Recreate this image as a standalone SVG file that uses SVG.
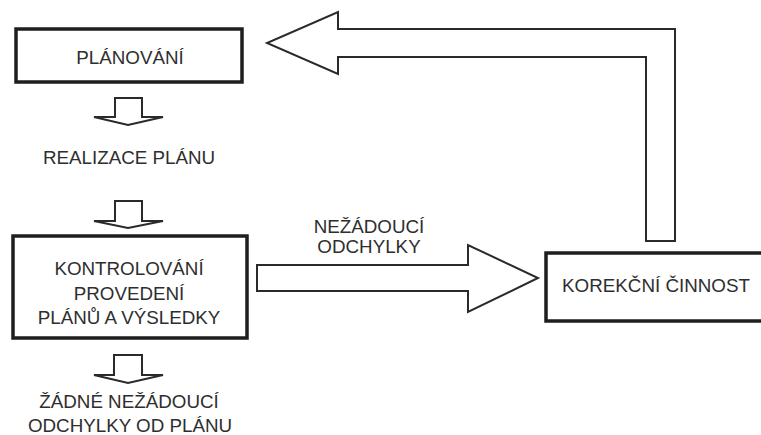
<svg xmlns="http://www.w3.org/2000/svg" width="761" height="435" viewBox="0 0 761 435">
<style>
.box{fill:#fff;stroke:#1e1e1e;stroke-width:3.5}
.arr{fill:#fff;stroke:#2a2a2a;stroke-width:2;stroke-linejoin:miter}
text{font-family:"Liberation Sans",Arial,sans-serif;font-size:18.8px;fill:#2e2e2e;text-anchor:middle}
</style>
<rect width="761" height="435" fill="#fff"/>
<g id="connectors">
<polygon class="arr" points="115,98 142,98 142,117 163,117 128,125 94,117 115,117"/>
<polygon class="arr" points="115,201 142,201 142,221 163,221 128,228 94,221 115,221"/>
<polygon class="arr" points="114,355 142,355 142,375 163,375 128,383 94,375 114,375"/>
<polygon class="arr" points="257,265 468,265 468,245 538,278 468,312 468,291 257,291"/>
<polygon class="arr" points="646,241 646,57 338,57 338,74 267,43 338,12 338,29 675,29 675,241"/>
</g>
<g id="n-planovani">
<rect class="box" x="16" y="29" width="226" height="53"/>
<text x="130" y="64">PLÁNOVÁNÍ</text>
</g>
<g id="n-realizace">
<text x="129" y="164">REALIZACE PLÁNU</text>
</g>
<g id="n-kontrolovani">
<rect class="box" x="13" y="236" width="234" height="102"/>
<text x="129" y="275">KONTROLOVÁNÍ</text>
<text x="129" y="300">PROVEDENÍ</text>
<text x="129" y="324">PLÁNŮ A VÝSLEDKY</text>
</g>
<g id="n-zadne">
<text x="129" y="408">ŽÁDNÉ NEŽÁDOUCÍ</text>
<text x="130" y="432">ODCHYLKY OD PLÁNU</text>
</g>
<g id="n-nezadouci">
<text x="369" y="233">NEŽÁDOUCÍ</text>
<text x="369" y="253">ODCHYLKY</text>
</g>
<g id="n-korekcni">
<rect class="box" x="546" y="253" width="230" height="68"/>
<text x="656" y="292">KOREKČNÍ ČINNOST</text>
</g>
</svg>
